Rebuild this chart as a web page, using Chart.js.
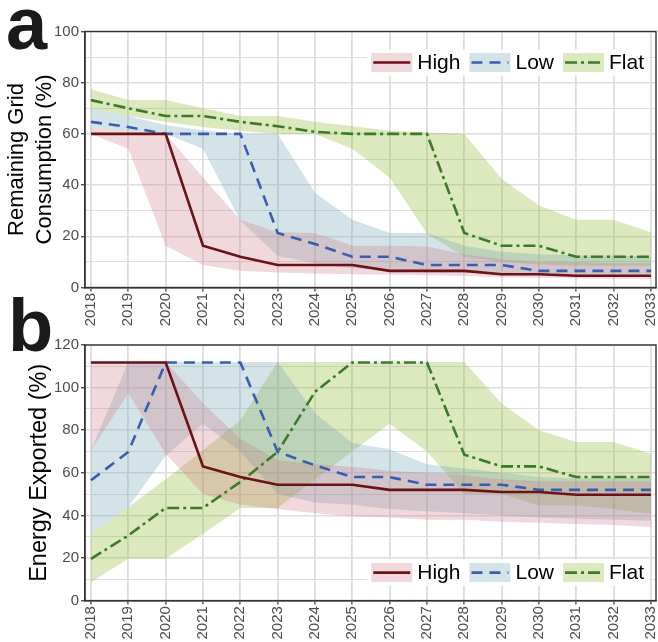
<!DOCTYPE html>
<html><head><meta charset="utf-8">
<script src="https://cdn.jsdelivr.net/npm/chart.js@4"></script>
<style>
html,body{margin:0;padding:0;background:#fff;width:658px;height:642px;overflow:hidden;position:relative}
#c1{position:absolute;left:0;top:0}
#c2{position:absolute;left:0;top:290px}
</style></head><body>
<canvas id="c1" width="658" height="335"></canvas>
<canvas id="c2" width="658" height="352"></canvas>
<script>
const years = [2018,2019,2020,2021,2022,2023,2024,2025,2026,2027,2028,2029,2030,2031,2032,2033];
const seriesNames = ['High','Low','Flat'];
const yGridA = [0,10,20,30,40,50,60,70,80,90,100];
const yGridB = [0,10,20,30,40,50,60,70,80,90,100,110,120];

// Panel a: Remaining Grid Consumption (%)
const highA      = [60, 60, 60, 16.3, 12, 8.8, 8.8, 8.8, 6.5, 6.5, 6.5, 5.2, 5.2, 4.6, 4.6, 4.6];
const highAUpper = [62.7, 60.8, 60, 43, 26.5, 21.6, 21.3, 16.3, 16.3, 16, 13, 11, 10, 10, 9.5, 9.5];
const highALower = [60, 54.2, 16.3, 8.8, 6.5, 5.9, 5.5, 5.2, 5, 4.8, 4.5, 4, 3.8, 3.5, 3.4, 3.3];
const lowA       = [64.7, 62.7, 60, 60, 60, 21.3, 17, 12, 12, 8.8, 8.8, 8.8, 6.5, 6.5, 6.5, 6.5];
const lowAUpper  = [69.7, 67, 63.4, 61.4, 60, 60, 37, 26.5, 21.3, 21.3, 16.3, 14, 13, 12.5, 12.5, 12];
const lowALower  = [62.7, 60.8, 60, 54.2, 26.1, 12.4, 9.5, 7.5, 6.5, 6, 5.8, 5.5, 5.2, 5, 5, 5];
const flatA      = [73.2, 70, 67, 67, 64.7, 63, 60.8, 60, 60, 60, 21.3, 16.3, 16.3, 12, 12, 12];
const flatAUpper = [77.4, 73.2, 73.2, 70, 67, 67, 64.7, 63, 61.3, 60.5, 60, 42.5, 32, 26.5, 26.5, 21.6];
const flatALower = [69.7, 67, 64.7, 62.7, 61.2, 60, 60, 54.2, 43, 21, 12, 10, 9, 8.5, 8.5, 8.5];

// Panel b: Energy Exported (%)
const highB      = [111.8, 111.8, 111.8, 63, 58, 54.4, 54.4, 54.4, 52, 52, 52, 51, 51, 49.7, 49.7, 49.7];
const highBUpper = [112, 112, 112, 92.6, 76, 66, 64, 62.8, 61, 60, 59, 57, 56, 56, 56, 56];
const highBLower = [70.6, 97.3, 69, 50, 45, 43, 41, 39.5, 39, 38, 38, 37, 36.5, 36, 35.5, 34.5];
const lowB       = [56.5, 69.8, 111.8, 111.8, 111.8, 69.8, 63.5, 58, 58, 54.4, 54.4, 54.4, 52, 52, 52, 52];
const lowBUpper  = [70.6, 112, 112, 112, 112, 112, 88, 74, 71, 64, 62, 60, 58, 57.5, 57.5, 57.5];
const lowBLower  = [31.4, 44, 68, 83, 70, 50, 46, 45, 43, 42, 41, 40, 39, 38.5, 38, 37.5];
const flatB      = [19.6, 30.6, 43.5, 43.5, 55.7, 69.8, 98, 111.8, 111.8, 111.8, 68.5, 63, 63, 58, 58, 58];
const flatBUpper = [31.4, 44, 57, 70.6, 84.7, 112, 112, 112, 112, 112, 112, 92.5, 80, 74.5, 74.5, 69];
const flatBLower = [8.6, 19.6, 19.6, 31.4, 43.5, 43.5, 57, 70, 83, 70, 50, 50, 44.7, 44.7, 43, 40.8];

const FONT = "'Liberation Sans', Arial, Helvetica, sans-serif";
const lineColors = ['#6b1218', '#3a5db2', '#3c7a2a'];
const fillColors = ['rgba(200,115,128,0.28)', 'rgba(112,162,175,0.30)', 'rgba(138,178,38,0.30)'];
const dashes = [[], [11, 7], [12, 4, 3, 4]];
const LW = 2.6;

const framePlugin = {
  id: 'frame',
  afterDatasetsDraw(chart) {
    const {ctx, chartArea: ca} = chart;
    ctx.save();
    ctx.strokeStyle = '#333';
    ctx.lineWidth = 1.4;
    ctx.strokeRect(ca.left, ca.top, ca.right - ca.left, ca.bottom - ca.top);
    ctx.restore();
  }
};

const legendPlugin = {
  id: 'customLegend',
  afterDraw(chart, args, opts) {
    const {ctx, chartArea: ca} = chart;
    ctx.save();
    ctx.font = '21px ' + FONT;
    const keyW = 41, keyH = 19, gapKT = 5, gapItem = 9;
    const widths = seriesNames.map(n => ctx.measureText(n).width);
    const total = widths.reduce((s, w) => s + keyW + gapKT + w, 0) + gapItem * (seriesNames.length - 1);
    let x = ca.right - opts.rightPad - total;
    const cy = opts.top ? ca.top + opts.offset : ca.bottom - opts.offset;
    ctx.fillStyle = '#ffffff';
    ctx.fillRect(x - 5, cy - 13, total + 10, 26);
    seriesNames.forEach((name, i) => {
      ctx.fillStyle = fillColors[i];
      ctx.fillRect(x, cy - keyH / 2, keyW, keyH);
      ctx.beginPath();
      ctx.setLineDash(dashes[i]);
      ctx.strokeStyle = lineColors[i];
      ctx.lineWidth = LW;
      ctx.moveTo(x + 2, cy);
      ctx.lineTo(x + keyW - 2, cy);
      ctx.stroke();
      ctx.setLineDash([]);
      ctx.fillStyle = '#000';
      ctx.textBaseline = 'middle';
      ctx.textAlign = 'left';
      ctx.fillText(name, x + keyW + gapKT, cy + 1);
      x += keyW + gapKT + widths[i] + gapItem;
    });
    ctx.restore();
  }
};

const letterPlugin = {
  id: 'panelLetter',
  afterDraw(chart, args, opts) {
    const ctx = chart.ctx;
    ctx.save();
    ctx.font = 'bold 74px ' + FONT;
    ctx.fillStyle = '#1a1a1a';
    ctx.textBaseline = 'alphabetic';
    ctx.fillText(opts.text, opts.x, opts.y);
    ctx.restore();
  }
};

function makePanel(canvas, cfg) {
  const lines = [[cfg.high, 0], [cfg.low, 1], [cfg.flat, 2]].map(([d, i]) => ({
    label: seriesNames[i], data: d, borderColor: lineColors[i], borderWidth: LW,
    borderDash: dashes[i], pointRadius: 0, fill: false, tension: 0, borderCapStyle: 'butt'
  }));
  const bands = [];
  [[cfg.highU, cfg.highL], [cfg.lowU, cfg.lowL], [cfg.flatU, cfg.flatL]].forEach(([u, l], i) => {
    bands.push({label: seriesNames[i] + ' upper', data: u, borderWidth: 0, borderColor: 'rgba(0,0,0,0)',
      pointRadius: 0, fill: '+1', backgroundColor: fillColors[i], tension: 0});
    bands.push({label: seriesNames[i] + ' lower', data: l, borderWidth: 0, borderColor: 'rgba(0,0,0,0)',
      pointRadius: 0, fill: false, tension: 0});
  });
  return new Chart(canvas, {
    type: 'line',
    data: { labels: years, datasets: lines.concat(bands) },
    options: {
      responsive: false, animation: false, devicePixelRatio: 1,
      layout: { padding: { top: cfg.padTop, right: 2, left: 0, bottom: 0 } },
      plugins: {
        legend: { display: false }, tooltip: { enabled: false },
        customLegend: { top: cfg.legendTop, offset: cfg.legendOffset, rightPad: 12 },
        panelLetter: { text: cfg.letter, x: cfg.letterX, y: cfg.letterY }
      },
      scales: {
        x: {
          type: 'linear', min: 2017.839, max: 2033.135,
          afterBuildTicks: s => { s.ticks = years.map(v => ({ value: v })); },
          afterFit: s => { s.height = cfg.xH; s.paddingLeft = 0; s.paddingRight = 0; },
          ticks: { autoSkip: false, maxRotation: 90, minRotation: 90, padding: 1.5, color: '#4d4d4d',
            font: { size: 15, family: FONT }, callback: v => String(v) },
          grid: { color: '#dedede', lineWidth: 1.8, tickLength: 4, tickColor: '#333', tickWidth: 1.2 },
          border: { display: true, color: '#333', width: 1.4 }
        },
        y: {
          type: 'linear', min: 0, max: cfg.yMax,
          afterBuildTicks: s => { s.ticks = cfg.yGrid.map(v => ({ value: v })); },
          afterFit: s => { s.width = 85; s.paddingTop = 0; s.paddingBottom = 0; },
          ticks: { autoSkip: false, padding: 2, color: '#4d4d4d', font: { size: 15, family: FONT },
            callback: v => (v % 20 === 0 ? String(v) : '') },
          grid: { color: '#dedede',
            lineWidth: c => (c.tick && c.tick.value % 20 === 0 ? 1.5 : 1.1),
            tickLength: 4, tickWidth: 1.2,
            tickColor: c => (c.tick && c.tick.value % 20 === 0 ? '#333' : 'rgba(0,0,0,0)') },
          border: { display: true, color: '#333', width: 1.4 },
          title: { display: true, text: cfg.title, color: '#000',
            font: { size: cfg.titleSize, family: FONT, lineHeight: cfg.titleLH },
            padding: { top: cfg.titlePad, bottom: 0 } }
        }
      }
    },
    plugins: [framePlugin, legendPlugin, letterPlugin]
  });
}

makePanel(document.getElementById('c1'), {
  high: highA, highU: highAUpper, highL: highALower,
  low: lowA, lowU: lowAUpper, lowL: lowALower,
  flat: flatA, flatU: flatAUpper, flatL: flatALower,
  yMax: 100, yGrid: yGridA, padTop: 31.5, xH: 47.5,
  title: ['Remaining Grid', 'Consumption (%)'], titleSize: 22, titleLH: 1.27, titlePad: 3,
  legendTop: true, legendOffset: 31, letter: 'a', letterX: 6, letterY: 49
});

makePanel(document.getElementById('c2'), {
  high: highB, highU: highBUpper, highL: highBLower,
  low: lowB, lowU: lowBUpper, lowL: lowBLower,
  flat: flatB, flatU: flatBUpper, flatL: flatBLower,
  yMax: 120, yGrid: yGridB, padTop: 55, xH: 41.4,
  title: 'Energy Exported (%)', titleSize: 23.5, titleLH: 1.2, titlePad: 25.3,
  legendTop: false, legendOffset: 28, letter: 'b', letterX: 8, letterY: 61
});
</script>
</body></html>
